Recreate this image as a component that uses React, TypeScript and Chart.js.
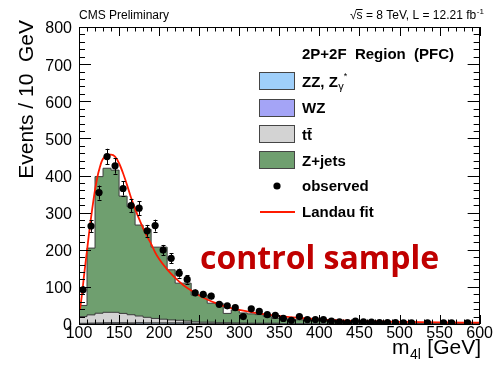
import React, { useEffect, useRef } from 'react';
import { Chart, registerables } from 'chart.js';
Chart.register(...registerables);

const W = 493;
const H = 370;
const AREA = { left: 79, right: 481, top: 27, bottom: 324 };

// bin lower edges (GeV), 10 GeV bins
const binEdges = [100,110,120,130,140,150,160,170,180,190,200,210,220,230,240,250,260,270,280,290,300,310,320,330,340,350,360,370,380,390,400,410,420,430,440,450,460,470,480,490,500,510,520,530,540,550,560,570,580,590];
const xMax = 600;
const binHalf = 5;

const zjets = [30,180,368,388,383,316,291,245,237,192,194,135,100,102,72,73,51,52,25,35,27,25,23,18,13,14,11,10,9,8,7,6.5,5.5,4.5,4.5,3.5,3.5,3.5,2.6,2.6,2.6,2.6,1.7,1.7,1.7,1.7,1.7,1.7,0.8,0.8];
const ttbar = [18,22,26,28,28,25,22,18,15,12,10,8,7,5,4,3,3,2,2,1.5,1.5,1,1,1,1,0.5,0.5,0.5,0.5,0.5,0,0,0,0,0,0,0,0,0,0,0,0,0,0,0,0,0,0,0,0];
const zz = [1,1,1,1.5,1.5,1.5,1.5,2,2,2,2,2,2,2,1.5,1.5,1.5,1,1,1,1,1,1,1,1,0.5,0.5,0.5,0.5,0.5,0.5,0.3,0.3,0.3,0.3,0.3,0.3,0.3,0.2,0.2,0.2,0.2,0.1,0.1,0.1,0.1,0.1,0.1,0.1,0.1];
const wz = [1,1.5,2,2,2,2,1.5,1.5,1,1,1,1,1,1,0.5,0.5,0.5,0.5,0.5,0.5,0.3,0.3,0.3,0.3,0.3,0.2,0.2,0.2,0.2,0.2,0.2,0.2,0.2,0.2,0.2,0.2,0.2,0.2,0.2,0.2,0.2,0.2,0.2,0.2,0.2,0.2,0.2,0.2,0.1,0.1];

const observed = [92,264,354,451,426,365,319,312,251,265,199,177,137,120,84,80,75,53,49,44,20,41,34,25,23,15,10,20,12,12,12,8,6,4,8,6,5,4,4,4,3,3,null,3,null,3,3,null,3,null];
const observedErr = [10,16,19,21,21,19,18,18,16,16,14,13,12,11,9,9,9,7,7,7,4.5,6.4,5.8,5,4.8,3.9,3.2,4.5,3.5,3.5,3.5,2.8,2.4,2,2.8,2.4,2.2,2,2,2,1.7,1.7,null,1.7,null,1.7,1.7,null,1.7,null];

const fitMass = [101,102,104,106,108,110,112,114,116,118,120,122,124,126,128,130,133,136,140,145,150,155,160,165,170,175,180,185,190,195,200,210,220,230,240,250,260,270,280,290,300,320,340,360,380,400,425,450,475,500,550,600];
const fitValue = [38,51,85,125,162,198,235,270,302,333,361,385,406,422,436,445,453,456,456,451,433,406,374,340,310,283,258,236,216,193,175,147,124,105,90,77,66,57,49,43,38,30,24,19,15.5,12.5,10,8,6.8,5.8,4.5,3.6];

const yMin = 0, yMax = 800, yStep = 100, yMinor = 20;
const xStep = 50, xMinor = 10;

const COLORS = {
  zz: '#9fcffa',
  wz: '#a4a4f6',
  tt: '#d3d3d3',
  zj: '#6f9f6f',
  outline: '#3c3c3c',
  fit: '#ff1a00',
  red: '#c00000',
};

function cumulative(...arrays: number[][]) {
  return binEdges.map((_, i) => arrays.reduce((s, a) => s + a[i], 0));
}
function stepData(vals: number[]) {
  const pts = binEdges.map((x, i) => ({ x, y: vals[i] }));
  pts.push({ x: xMax, y: vals[vals.length - 1] });
  return pts;
}

const FONT = '"Liberation Sans", Arial, Helvetica, sans-serif';
const MARKER_R = 3.6;

const errorBars = {
  id: 'errorBars',
  afterDatasetsDraw(chart: any) {
    const { ctx, scales } = chart;
    const xs = scales.x, ys = scales.y;
    ctx.save();
    ctx.strokeStyle = '#000';
    ctx.lineWidth = 1;
    binEdges.forEach((e, i) => {
      const v = observed[i];
      if (v == null) return;
      const err = observedErr[i] || 0;
      const cx = xs.getPixelForValue(e + binHalf);
      const x0 = xs.getPixelForValue(e);
      const x1 = xs.getPixelForValue(e + 2 * binHalf);
      const cy = ys.getPixelForValue(v);
      const yTop = ys.getPixelForValue(v + err);
      const yBot = ys.getPixelForValue(Math.max(v - err, 0));
      ctx.beginPath();
      ctx.moveTo(Math.round(cx) + 0.5, yTop);
      ctx.lineTo(Math.round(cx) + 0.5, yBot);
      ctx.moveTo(x0 + 2, Math.round(cy) + 0.5);
      ctx.lineTo(x1 - 2, Math.round(cy) + 0.5);
      if (Math.abs(yBot - yTop) > 8) {
        ctx.moveTo(Math.round(cx) - 1.5, Math.round(yTop) + 0.5);
        ctx.lineTo(Math.round(cx) + 2.5, Math.round(yTop) + 0.5);
        ctx.moveTo(Math.round(cx) - 1.5, Math.round(yBot) + 0.5);
        ctx.lineTo(Math.round(cx) + 2.5, Math.round(yBot) + 0.5);
      }
      ctx.stroke();
    });
    ctx.restore();
  },
};

const frameAndText = {
  id: 'frameAndText',
  afterDraw(chart: any) {
    const { ctx, chartArea, scales } = chart;
    const xs = scales.x, ys = scales.y;
    const { left, right, top, bottom } = chartArea;
    ctx.save();
    // frame
    ctx.strokeStyle = '#000';
    ctx.lineWidth = 1;
    ctx.strokeRect(Math.round(left) + 0.5, Math.round(top) + 0.5, Math.round(right - left) - 1, Math.round(bottom - top));
    // ticks on all four sides, pointing inwards
    ctx.beginPath();
    for (let v = yMin; v <= yMax; v += yMinor) {
      const y = Math.round(ys.getPixelForValue(v)) + 0.5;
      const len = v % yStep === 0 ? 12 : 6;
      ctx.moveTo(left, y); ctx.lineTo(left + len, y);
      ctx.moveTo(right, y); ctx.lineTo(right - len, y);
    }
    for (let v = xs.min; v <= xs.max; v += xMinor) {
      const x = Math.round(xs.getPixelForValue(v)) + 0.5;
      const len = (v - xs.min) % xStep === 0 ? 9 : 4.5;
      ctx.moveTo(x, bottom); ctx.lineTo(x, bottom - len);
      ctx.moveTo(x, top); ctx.lineTo(x, top + len);
    }
    ctx.stroke();

    ctx.fillStyle = '#000';
    ctx.textBaseline = 'alphabetic';
    // header texts
    ctx.font = `12px ${FONT}`;
    ctx.textAlign = 'left';
    ctx.fillText('CMS Preliminary', 79, 19);
    const main = '\u221As = 8 TeV, L = 12.21 fb';
    ctx.fillText(main, 350, 19);
    const sqrtW = ctx.measureText('\u221A').width;
    const sW = ctx.measureText('s').width;
    const mw = ctx.measureText(main).width;
    ctx.beginPath();
    ctx.lineWidth = 1;
    ctx.strokeStyle = '#000';
    ctx.moveTo(350 + sqrtW - 0.5, 9.5);
    ctx.lineTo(350 + sqrtW + sW, 9.5);
    ctx.stroke();
    ctx.font = `8px ${FONT}`;
    ctx.fillText('-1', 350 + mw + 0.5, 14);

    // y-axis title
    ctx.save();
    ctx.translate(33, 20);
    ctx.rotate(-Math.PI / 2);
    ctx.font = `21px ${FONT}`;
    ctx.textAlign = 'right';
    ctx.fillText('Events / 10  GeV', 0, 0);
    ctx.restore();

    // x-axis title: m_{4l} [GeV]
    ctx.textAlign = 'left';
    ctx.font = `21px ${FONT}`;
    const t1 = 'm';
    const t3 = ' [GeV]';
    const w1 = ctx.measureText(t1).width;
    const w3 = ctx.measureText(t3).width;
    ctx.font = `14px ${FONT}`;
    const t2 = '4l';
    const w2 = ctx.measureText(t2).width;
    const xEnd = 481;
    const xStart = xEnd - w1 - w2 - w3 - 1;
    ctx.font = `21px ${FONT}`;
    ctx.fillText(t1, xStart, 354);
    ctx.font = `14px ${FONT}`;
    ctx.fillText(t2, xStart + w1 + 0.5, 359);
    ctx.font = `21px ${FONT}`;
    ctx.fillText(t3, xStart + w1 + w2 + 1, 354);

    // legend
    const bx = 259, bw = 36, bh = 18, lx = 302;
    ctx.font = `bold 15px ${FONT}`;
    ctx.fillText('2P+2F  Region  (PFC)', 302, 59);
    const entries = [
      { color: COLORS.zz, top: 72 },
      { color: COLORS.wz, top: 99 },
      { color: COLORS.tt, top: 125 },
      { color: COLORS.zj, top: 151 },
    ];
    entries.forEach((e) => {
      ctx.fillStyle = e.color;
      ctx.fillRect(bx, e.top, bw, bh);
      ctx.strokeStyle = '#454545';
      ctx.lineWidth = 1;
      ctx.strokeRect(bx + 0.5, e.top + 0.5, bw - 1, bh - 1);
    });
    ctx.fillStyle = '#000';
    ctx.font = `bold 15px ${FONT}`;
    const zzBase = 87;
    const p1 = 'ZZ, Z';
    ctx.fillText(p1, lx, zzBase);
    const pw = ctx.measureText(p1).width;
    ctx.font = `11px ${FONT}`;
    ctx.fillText('\u03B3', lx + pw + 0.5, zzBase + 3);
    const gw = ctx.measureText('\u03B3').width;
    ctx.font = `9px ${FONT}`;
    ctx.fillText('*', lx + pw + gw + 0.5, zzBase - 8);
    ctx.font = `bold 15px ${FONT}`;
    ctx.fillText('WZ', lx, 113);
    ctx.fillText('tt\u0304', lx, 140);
    ctx.fillText('Z+jets', lx, 166);
    ctx.fillText('observed', lx, 191);
    ctx.fillText('Landau fit', lx, 217);
    ctx.beginPath();
    ctx.arc(277, 186, MARKER_R, 0, Math.PI * 2);
    ctx.fill();
    ctx.strokeStyle = COLORS.fit;
    ctx.lineWidth = 1.8;
    ctx.beginPath();
    ctx.moveTo(260, 212);
    ctx.lineTo(295, 212);
    ctx.stroke();

    // annotation
    ctx.fillStyle = COLORS.red;
    ctx.font = `bold 32px "Open Sans", sans-serif`;
    ctx.fillText('control sample', 200, 269);
    ctx.restore();
  },
};

export default function App() {
  const ref = useRef<HTMLCanvasElement>(null);
  useEffect(() => {
    document.body.style.margin = '0';
    const cZZ = cumulative(zz);
    const cWZ = cumulative(zz, wz);
    const cTT = cumulative(zz, wz, ttbar);
    const cZJ = cumulative(zz, wz, ttbar, zjets);
    const histStyle = (bg: string, order: number) => ({
      type: 'line' as const,
      stepped: true,
      fill: 'origin',
      backgroundColor: bg,
      borderColor: COLORS.outline,
      borderWidth: 1,
      pointRadius: 0,
      order,
    });
    const obsPoints = binEdges
      .map((e, i) => (observed[i] == null ? null : { x: e + binHalf, y: observed[i] as number }))
      .filter((p) => p != null);
    const chart = new Chart(ref.current!, {
      type: 'line',
      data: {
        datasets: [
          {
            type: 'scatter',
            label: 'observed',
            data: obsPoints as any,
            pointRadius: MARKER_R,
            pointBackgroundColor: '#000',
            pointBorderWidth: 0,
            showLine: false,
            order: 0,
          } as any,
          {
            type: 'line',
            label: 'Landau fit',
            data: fitMass.map((m, i) => ({ x: m, y: fitValue[i] })),
            borderColor: COLORS.fit,
            borderWidth: 1.8,
            pointRadius: 0,
            cubicInterpolationMode: 'monotone',
            fill: false,
            order: 1,
          },
          { label: 'ZZ, Zγ*', data: stepData(cZZ), ...histStyle(COLORS.zz, 2) } as any,
          { label: 'WZ', data: stepData(cWZ), ...histStyle(COLORS.wz, 3) } as any,
          { label: 'tt̄', data: stepData(cTT), ...histStyle(COLORS.tt, 4) } as any,
          { label: 'Z+jets', data: stepData(cZJ), ...histStyle(COLORS.zj, 5) } as any,
        ],
      },
      options: {
        responsive: false,
        animation: false,
        devicePixelRatio: 1,
        layout: { padding: { top: AREA.top, right: W - AREA.right, left: 0, bottom: 0 } },
        plugins: { legend: { display: false }, tooltip: { enabled: false }, title: { display: false } },
        scales: {
          x: {
            type: 'linear',
            min: binEdges[0],
            max: xMax,
            grid: { display: false, drawTicks: false },
            border: { display: false },
            ticks: {
              stepSize: xStep,
              autoSkip: false,
              maxRotation: 0,
              padding: 0,
              color: '#000',
              font: { family: FONT, size: 16 },
            },
            afterFit: (s: any) => { s.height = H - AREA.bottom; },
          },
          y: {
            type: 'linear',
            min: yMin,
            max: yMax,
            grid: { display: false, drawTicks: false },
            border: { display: false },
            ticks: {
              stepSize: yStep,
              padding: 7,
              labelOffset: 2,
              color: '#000',
              font: { family: FONT, size: 16 },
            },
            afterFit: (s: any) => { s.width = AREA.left; },
          },
        },
      },
      plugins: [errorBars, frameAndText],
    } as any);
    return () => chart.destroy();
  }, []);
  return (
    <div style={{ width: W, height: H, position: 'relative' }}>
      <canvas ref={ref} width={W} height={H} style={{ display: 'block', width: W, height: H }} />
    </div>
  );
}
